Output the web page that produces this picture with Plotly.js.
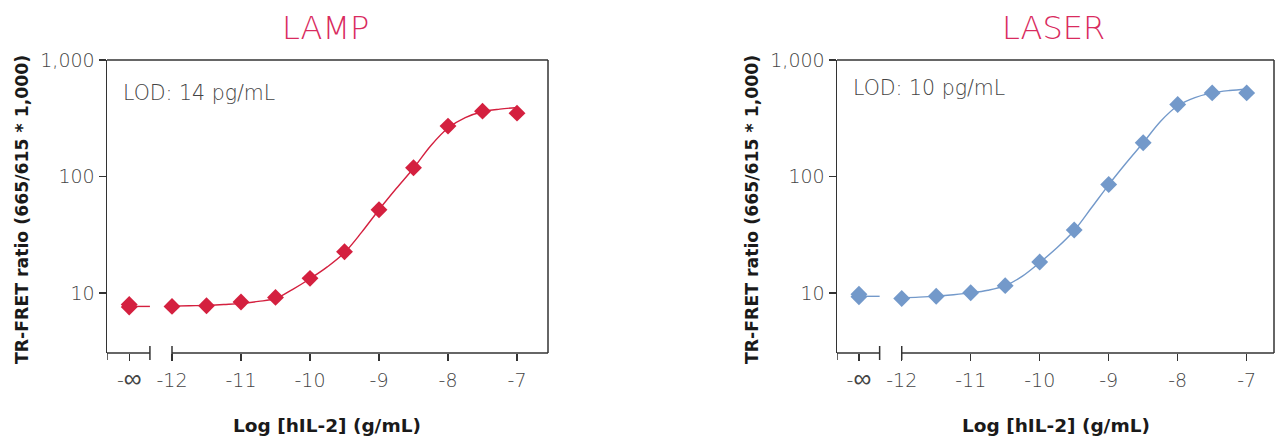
<!DOCTYPE html>
<html>
<head>
<meta charset="utf-8">
<script src="https://cdn.plot.ly/plotly-3.0.1.min.js"></script>
<style>html,body{margin:0;padding:0;background:#fff;}#chart{width:1275px;height:436px;}</style>
</head>
<body>
<div id="chart"></div>
<script>
// ---------- data ----------
const panelTitles = ['LAMP', 'LASER'];
const lodLabels = ['LOD: 14 pg/mL', 'LOD: 10 pg/mL'];
const xTickLabels = ['-<span style="font-size:25px;font-weight:200">\u221E</span>', '-12', '-11', '-10', '-9', '-8', '-7'];
const xTickValues = [-12, -11, -10, -9, -8, -7];
const yTickValues = [10, 100, 1000];
const yTickLabels = ['10', '100', '1,000'];

// measured points: log concentration (g/mL) and TR-FRET ratio
const doseLog = [-12, -11.5, -11, -10.5, -10, -9.5, -9, -8.5, -8, -7.5, -7];
const lampSignal = [7.7, 7.8, 8.4, 9.2, 13.4, 22.7, 52, 119, 271, 364, 350];
const laserSignal = [9.0, 9.4, 10.1, 11.6, 18.5, 34.8, 85.5, 195, 415, 522, 522];
// blank (no hIL-2) replicates plotted at "-inf"
const lampBlank = [7.6, 8.0];
const laserBlank = [9.3, 9.8];

// fitted curve
const fitLog = [-12, -11.75, -11.5, -11.25, -11, -10.75, -10.5, -10.25, -10, -9.75, -9.5,
                -9.25, -9, -8.75, -8.5, -8.25, -8, -7.75, -7.5, -7.25, -7];
const lampFit = [7.74, 7.8, 7.85, 8.0, 8.17, 8.5, 9.0, 10.8, 13.3, 16.8, 22.3,
                 33.4, 52, 79, 118, 184, 261, 321, 360, 379, 391];
const laserFit = [9.12, 9.25, 9.43, 9.7, 10.06, 10.6, 11.6, 14.0, 18.3, 24.5, 34.5,
                  54, 85, 130, 195, 297, 405, 476, 522, 547, 562];
const lampBaseline = 7.7;
const laserBaseline = 9.4;

// ---------- styling / layout ----------
const W = 1275, H = 436;
const NEG_INF_X = -12.62;   // axis position used for the "-inf" column
const BREAK_X = -12.32;     // end of the short axis piece before the break
const colors = ['#D4203F', '#7399CA'];
const titleColor = '#D92B5E';
const axisColor = '#333333';
const lightFont = '"DejaVu Sans", sans-serif';
const boldFont = '"DejaVu Sans", sans-serif';

const panels = [
  {x0: 107, x1: 548, range: [-12.942, -6.551], signal: lampSignal, blank: lampBlank, fit: lampFit, base: lampBaseline},
  {x0: 837, x1: 1274, range: [-12.938, -6.604], signal: laserSignal, blank: laserBlank, fit: laserFit, base: laserBaseline}
];
const plotTop = 60, plotBottom = 353;
const yDomain = [(H - plotBottom) / H, (H - plotTop) / H];

const traces = [];
const layout = {
  width: W, height: H,
  margin: {l: 0, r: 0, t: 0, b: 0},
  paper_bgcolor: '#fff', plot_bgcolor: '#fff',
  showlegend: false,
  shapes: [], annotations: []
};

panels.forEach((p, i) => {
  const n = i === 0 ? '' : '2';
  const xa = 'x' + n, ya = 'y' + n;
  const col = colors[i];

  traces.push({x: fitLog, y: p.fit, xaxis: xa, yaxis: ya, mode: 'lines', type: 'scatter',
    line: {color: col, width: 1.4, shape: 'spline', smoothing: 1}, hoverinfo: 'skip'});
  traces.push({x: [NEG_INF_X, BREAK_X], y: [p.base, p.base], xaxis: xa, yaxis: ya, mode: 'lines', type: 'scatter',
    line: {color: col, width: 1.4}, hoverinfo: 'skip'});
  traces.push({x: doseLog, y: p.signal, xaxis: xa, yaxis: ya, mode: 'markers', type: 'scatter',
    marker: {symbol: 'diamond', size: 13, color: col}});
  traces.push({x: p.blank.map(() => NEG_INF_X), y: p.blank, xaxis: xa, yaxis: ya, mode: 'markers', type: 'scatter',
    marker: {symbol: 'diamond', size: 13, color: col}});

  layout['xaxis' + n] = {
    domain: [p.x0 / W, p.x1 / W], range: p.range, anchor: ya,
    showline: false, showgrid: false, zeroline: false,
    ticks: 'outside', ticklen: 7, tickwidth: 1.4, tickcolor: axisColor,
    ticklabelstandoff: 3,
    tickvals: [NEG_INF_X].concat(xTickValues), ticktext: xTickLabels,
    tickfont: {family: lightFont, size: 19, color: '#444', weight: 200}
  };
  layout['yaxis' + n] = {
    domain: yDomain, type: 'log', range: [0.487, 3], anchor: xa,
    showline: true, linecolor: axisColor, linewidth: 1.5,
    showgrid: false, zeroline: false,
    ticks: 'outside', ticklen: 7, tickwidth: 1.4, tickcolor: axisColor,
    tickvals: yTickValues, ticktext: yTickLabels,
    tickfont: {family: lightFont, size: 19, color: '#444', weight: 200}
  };

  const ln = {color: axisColor, width: 1.5};
  const yd = ya + ' domain', xd = xa + ' domain';
  // broken bottom axis
  layout.shapes.push({type: 'line', xref: xa, yref: yd, x0: p.range[0], x1: BREAK_X, y0: 0, y1: 0, line: ln});
  layout.shapes.push({type: 'line', xref: xa, yref: yd, x0: -12, x1: p.range[1], y0: 0, y1: 0, line: ln});
  [BREAK_X, -12].forEach(v => layout.shapes.push({type: 'line', xref: xa, yref: yd, ysizemode: 'pixel', yanchor: 0,
    x0: v, x1: v, y0: -7, y1: 7, line: ln}));
  layout.shapes.push({type: 'line', xref: xa, yref: yd, ysizemode: 'pixel', yanchor: 0,
    x0: p.range[0], x1: p.range[0], y0: -7, y1: 0, line: ln});
  // frame top and right
  layout.shapes.push({type: 'line', xref: xd, yref: yd, x0: 0, x1: 1, y0: 1, y1: 1, line: ln});
  layout.shapes.push({type: 'line', xref: xd, yref: yd, x0: 1, x1: 1, y0: 0, y1: 1, line: ln});

  const cx = (p.x0 + p.x1) / 2 / W;
  layout.annotations.push({text: panelTitles[i], xref: 'paper', yref: 'paper', x: cx - 2 / W, y: 1 - 28 / H,
    xanchor: 'center', yanchor: 'middle', showarrow: false,
    font: {family: lightFont, size: 32, color: titleColor, weight: 200}});
  layout.annotations.push({text: lodLabels[i], xref: 'paper', yref: 'paper', x: (p.x0 + 14) / W, y: 1 - (i === 0 ? 93 : 88) / H,
    xanchor: 'left', yanchor: 'middle', showarrow: false,
    font: {family: lightFont, size: 20.5, color: '#444', weight: 200}});
  layout.annotations.push({text: '<b>Log [hIL-2] (g/mL)</b>', xref: 'paper', yref: 'paper', x: cx, y: 1 - 425 / H,
    xanchor: 'center', yanchor: 'middle', showarrow: false,
    font: {family: boldFont, size: 18.5, color: '#1a1a1a'}});
  layout.annotations.push({text: '<b>TR-FRET ratio (665/615 * 1,000)</b>', xref: 'paper', yref: 'paper',
    x: (p.x0 - 85) / W, y: 1 - 210 / H, textangle: -90,
    xanchor: 'center', yanchor: 'middle', showarrow: false,
    font: {family: boldFont, size: 17.3, color: '#1a1a1a'}});
});

Plotly.newPlot('chart', traces, layout, {staticPlot: true, displayModeBar: false});
</script>
</body>
</html>
